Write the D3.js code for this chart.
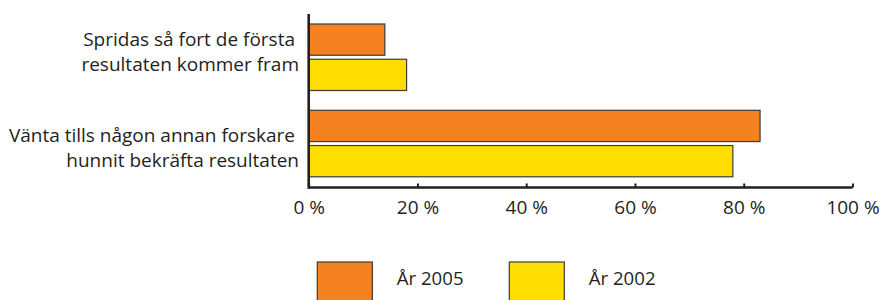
<!DOCTYPE html>
<html><head><meta charset="utf-8">
<script src="https://cdn.jsdelivr.net/npm/d3@7"></script>
<style>body{margin:0;background:#fff}svg{display:block}text{font-family:"Open Sans",sans-serif;fill:#231f20}</style>
</head><body>
<svg id="c" width="881" height="300"></svg>
<script>
const categories = [
  ["Spridas så fort de första", "resultaten kommer fram"],
  ["Vänta tills någon annan forskare", "hunnit bekräfta resultaten"]
];
const seriesNames = ["År 2005", "År 2002"];
const values2005 = [14, 83];
const values2002 = [18, 78];
const colors = ["#f58220", "#ffdd00"];
const tickValues = [0, 20, 40, 60, 80, 100];

const svg = d3.select("#c");
const x = d3.scaleLinear().domain([0, 100]).range([308.7, 852.5]);
const yGroup = d3.scaleBand().domain([0, 1]).range([24, 176.8]).paddingInner(0.2294).paddingOuter(0);
const ySub = d3.scaleBand().domain([0, 1]).range([0, yGroup.bandwidth()]).paddingInner(0.1135);

const series = [values2005, values2002];
series.forEach((vals, si) => {
  svg.selectAll(null).data(vals).enter().append("rect")
    .attr("x", x(0))
    .attr("y", (d, i) => yGroup(i) + ySub(si))
    .attr("width", d => x(d) - x(0))
    .attr("height", ySub.bandwidth())
    .attr("fill", colors[si])
    .attr("stroke", "#3a3a3a").attr("stroke-width", 1.2);
});

// axes
const gx = svg.append("g").attr("transform", "translate(0,187.5)")
  .call(d3.axisBottom(x).tickValues(tickValues).tickSize(-4).tickFormat(d => d + " %"));
gx.select(".domain").attr("stroke", "#231f20").attr("stroke-width", 2.6).attr("d", `M${x(0)},0H${x(100)}`);
gx.selectAll(".tick line").attr("stroke", "#231f20").attr("stroke-width", 2);
gx.selectAll(".tick text").attr("y", 26.5).attr("dy", 0).style("font-size", "19px")
  .style("font-family", '"Open Sans",sans-serif').attr("fill", "#231f20");

svg.append("line").attr("x1", x(0)).attr("x2", x(0)).attr("y1", 14).attr("y2", 188.8)
  .attr("stroke", "#231f20").attr("stroke-width", 2.6);

// category labels
const labelOffsets = [-11.2, -2];
categories.forEach((lines, i) => {
  const cy = yGroup(i) + yGroup.bandwidth() / 2;
  lines.forEach((t, li) => {
    svg.append("text").attr("x", li === 0 ? 295 : 299).attr("y", cy + labelOffsets[i] + li * 25.3)
      .attr("text-anchor", "end").style("font-size", "19px").text(t);
  });
});

// legend
const legX = [317.3, 509.3];
seriesNames.forEach((n, i) => {
  svg.append("rect").attr("x", legX[i]).attr("y", 262).attr("width", 55).attr("height", 45)
    .attr("fill", colors[i]).attr("stroke", "#3a3a3a").attr("stroke-width", 1.2);
  svg.append("text").attr("x", legX[i] + 79.5).attr("y", 285).style("font-size", "18.6px").text(n);
});
</script>
</body></html>
